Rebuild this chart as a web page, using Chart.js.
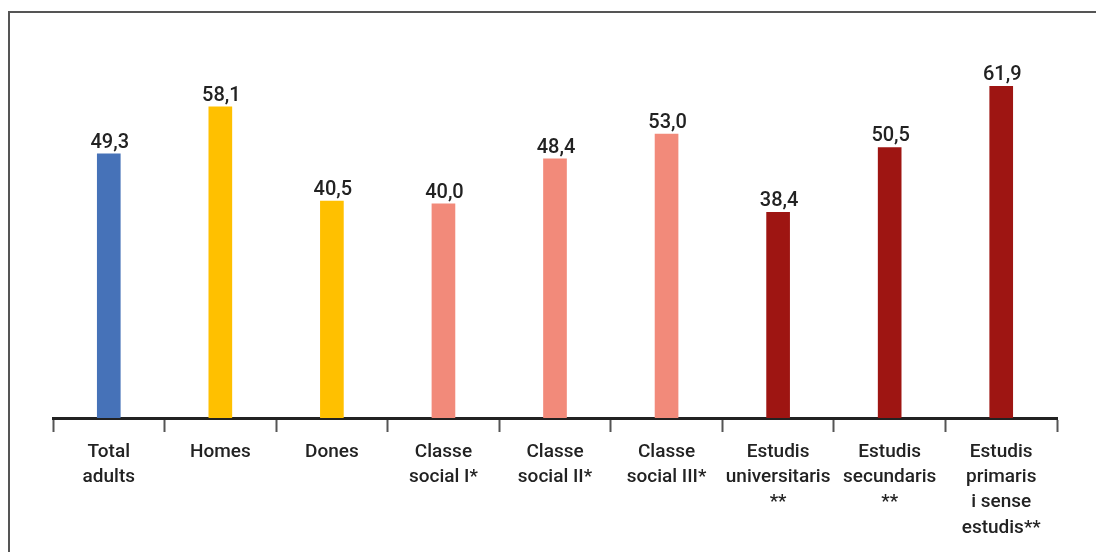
<!DOCTYPE html>
<html>
<head>
<meta charset="utf-8">
<script src="https://cdn.jsdelivr.net/npm/chart.js@4"></script>
<style>
  html, body { margin: 0; padding: 0; background: #fff; }
  #wrap { position: relative; width: 1096px; height: 552px; overflow: hidden; }
  #frame { position: absolute; left: 8px; top: 11px; width: 1200px; height: 700px;
           border-left: 2px solid #555; border-top: 2px solid #555; }
  canvas { position: absolute; left: 0; top: 0; }
</style>
</head>
<body>
<div id="wrap">
  <div id="frame"></div>
  <canvas id="chart" width="1096" height="552"></canvas>
</div>
<script>
// categories (multi-line labels)
const categories = [
    ["Total", "adults"],
    ["Homes"],
    ["Dones"],
    ["Classe", "social I*"],
    ["Classe", "social II*"],
    ["Classe", "social III*"],
    ["Estudis", "universitaris", "**"],
    ["Estudis", "secundaris", "**"],
    ["Estudis", "primaris", "i sense", "estudis**"]
];
const values = [49.3, 58.1, 40.5, 40.0, 48.4, 53.0, 38.4, 50.5, 61.9];
const barColors = ["#4672b8", "#ffc000", "#ffc000", "#f28a7a", "#f28a7a", "#f28a7a", "#9e1512", "#9e1512", "#9e1512"];

/* etiquetes de valor sobre les barres */
const valueLabels = {
    id: "valueLabels",
    afterDatasetsDraw(chart) {
        const ctx = chart.ctx;
        const meta = chart.getDatasetMeta(0);
        ctx.save();
        ctx.font = "500 20px Roboto";
        ctx.fillStyle = "#222";
        ctx.textAlign = "center";
        ctx.textBaseline = "alphabetic";
        meta.data.forEach((bar, i) => {
            ctx.fillText(values[i].toFixed(1).replace(".", ","), bar.x + 1, bar.y - 6);
        });
        ctx.restore();
    }
};

new Chart(document.getElementById("chart"), {
    type: "bar",
    data: {
        labels: categories,
        datasets: [{
            data: values,
            backgroundColor: barColors,
            barThickness: 23
        }]
    },
    options: {
        responsive: false,
        animation: false,
        layout: { padding: { left: 53, right: 39, top: 43, bottom: 0 } },
        plugins: { legend: { display: false }, tooltip: { enabled: false } },
        scales: {
            x: {
                offset: true,
                grid: {
                    offset: true,
                    drawOnChartArea: false,
                    drawTicks: true,
                    tickLength: 14,
                    tickWidth: 2,
                    tickColor: "#555"
                },
                border: { display: true, color: "#222", width: 3 },
                ticks: {
                    color: "#222",
                    font: { family: "Roboto", size: 19, weight: "500", lineHeight: 1.32 },
                    padding: 8,
                    maxRotation: 0,
                    autoSkip: false
                },
                afterFit(scale) { scale.height = 134; }
            },
            y: {
                display: false,
                min: 0,
                max: 70
            }
        }
    },
    plugins: [valueLabels]
});
</script>
</body>
</html>
